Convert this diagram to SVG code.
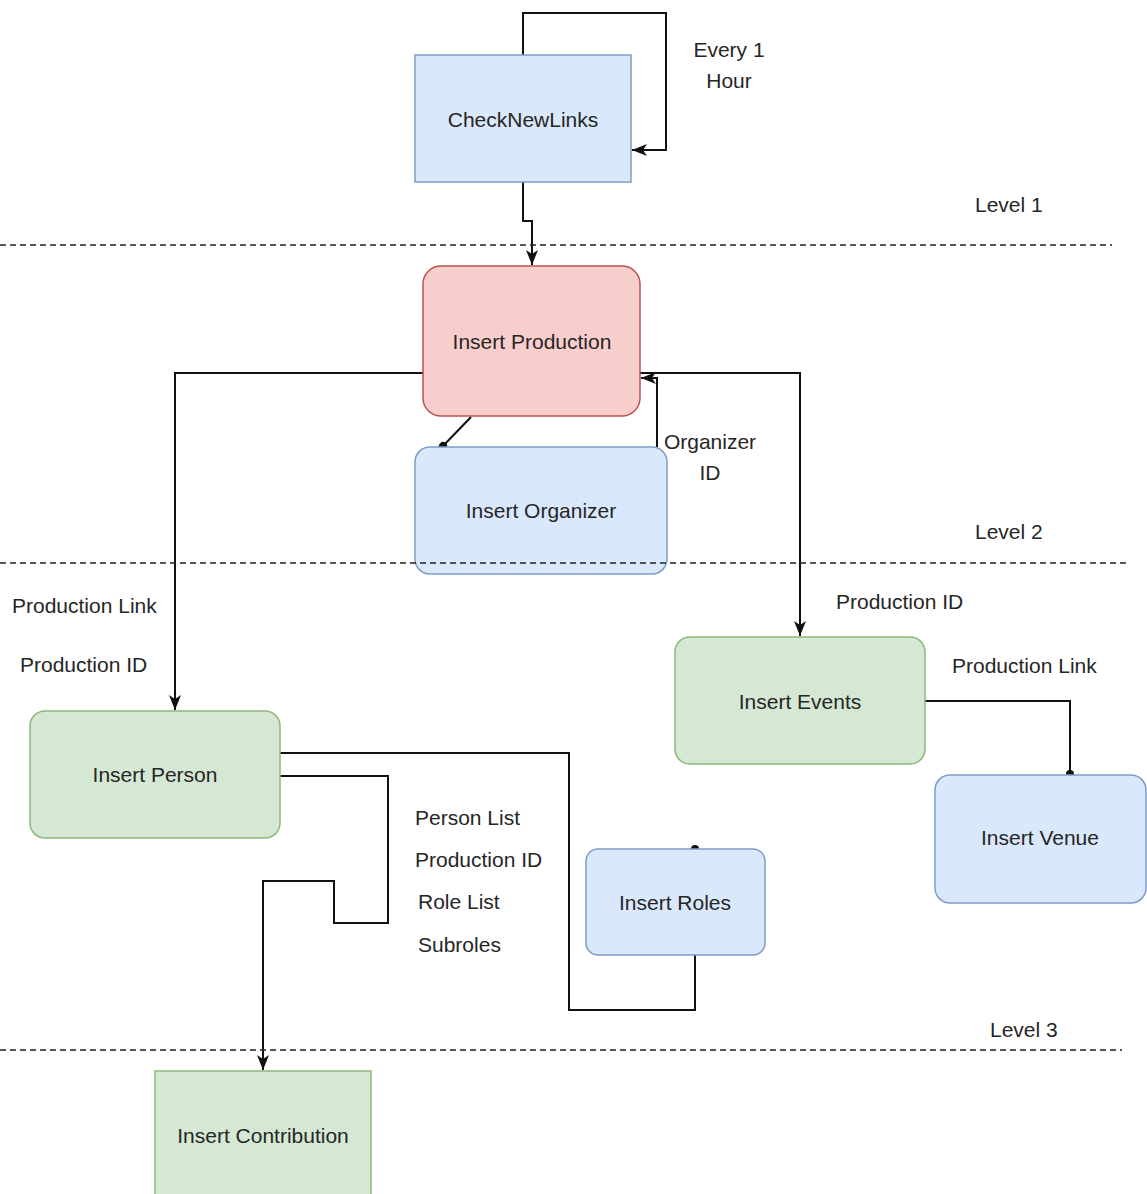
<svg xmlns="http://www.w3.org/2000/svg" width="1147" height="1194" viewBox="0 0 1147 1194">
<style>
text{font-family:"Liberation Sans",Arial,sans-serif;font-size:21px;fill:#262626}
.c{text-anchor:middle}
.blue{fill:#dae8fc;stroke:#7f9cc6;stroke-width:1.5}
.red{fill:#f8cecc;stroke:#b85450;stroke-width:1.5}
.green{fill:#d5e8d4;stroke:#8fb87a;stroke-width:1.5}
.edge{fill:none;stroke:#111;stroke-width:2}
.dash{fill:none;stroke:#222;stroke-width:1.6;stroke-dasharray:6 4}
</style>
<defs>
<marker id="arr" markerUnits="userSpaceOnUse" markerWidth="16" markerHeight="16" viewBox="0 0 16 16" refX="15" refY="8" orient="auto">
<path d="M0,2 L15,8 L0,14 L4,8 Z" fill="#111"/>
</marker>
<marker id="dot" markerUnits="userSpaceOnUse" markerWidth="10" markerHeight="10" viewBox="0 0 10 10" refX="5" refY="5" orient="auto">
<circle cx="5" cy="5" r="4" fill="#111"/>
</marker>
</defs>
<rect width="1147" height="1194" fill="#fff"/>
<g id="connectors">
<path class="edge" d="M523 55 V13 H666 V150 H632" marker-end="url(#arr)"/>
<path class="edge" d="M523 182 V221 H532 V265" marker-end="url(#arr)"/>
<path class="edge" d="M471 417 L443 446" marker-end="url(#dot)"/>
<path class="edge" d="M657 447 V378 H641" marker-end="url(#arr)"/>
<path class="edge" d="M640 373 H800 V636" marker-end="url(#arr)"/>
<path class="edge" d="M423 373 H175 V710" marker-end="url(#arr)"/>
<path class="edge" d="M925 701 H1070 V774" marker-end="url(#dot)"/>
<path class="edge" d="M280 753 H569 V1010 H695 V955"/>
<circle cx="695" cy="849" r="4" fill="#111"/>
<path class="edge" d="M280 776 H388 V923 H334 V881 H263 V1070" marker-end="url(#arr)"/>
<text class="c" x="729" y="57">Every 1</text>
<text class="c" x="729" y="88">Hour</text>
<text class="c" x="710" y="449">Organizer</text>
<text class="c" x="710" y="480">ID</text>
<text x="12" y="613">Production Link</text>
<text x="20" y="672">Production ID</text>
<text x="836" y="609">Production ID</text>
<text x="952" y="673">Production Link</text>
<text x="415" y="825">Person List</text>
<text x="415" y="867">Production ID</text>
<text x="418" y="909">Role List</text>
<text x="418" y="952">Subroles</text>
</g>
<g id="CheckNewLinks">
<rect class="blue" x="415" y="55" width="216" height="127"/>
<text class="c" x="523" y="127">CheckNewLinks</text>
</g>
<g id="InsertProduction">
<rect class="red" x="423" y="266" width="217" height="150" rx="18"/>
<text class="c" x="532" y="349">Insert Production</text>
</g>
<g id="InsertOrganizer">
<rect class="blue" x="415" y="447" width="252" height="127" rx="15"/>
<text class="c" x="541" y="518">Insert Organizer</text>
</g>
<g id="InsertPerson">
<rect class="green" x="30" y="711" width="250" height="127" rx="15"/>
<text class="c" x="155" y="782">Insert Person</text>
</g>
<g id="InsertEvents">
<rect class="green" x="675" y="637" width="250" height="127" rx="15"/>
<text class="c" x="800" y="709">Insert Events</text>
</g>
<g id="InsertVenue">
<rect class="blue" x="935" y="775" width="211" height="128" rx="15"/>
<text class="c" x="1040" y="845">Insert Venue</text>
</g>
<g id="InsertRoles">
<rect class="blue" x="586" y="849" width="179" height="106" rx="12"/>
<text class="c" x="675" y="910">Insert Roles</text>
</g>
<g id="InsertContribution">
<rect class="green" x="155" y="1071" width="216" height="140"/>
<text class="c" x="263" y="1143">Insert Contribution</text>
</g>
<g id="levels">
<line class="dash" x1="0" y1="245" x2="1112" y2="245"/>
<line class="dash" x1="0" y1="563" x2="1128" y2="563"/>
<line class="dash" x1="0" y1="1050" x2="1122" y2="1050"/>
<text x="975" y="212">Level 1</text>
<text x="975" y="539">Level 2</text>
<text x="990" y="1037">Level 3</text>
</g>
</svg>
